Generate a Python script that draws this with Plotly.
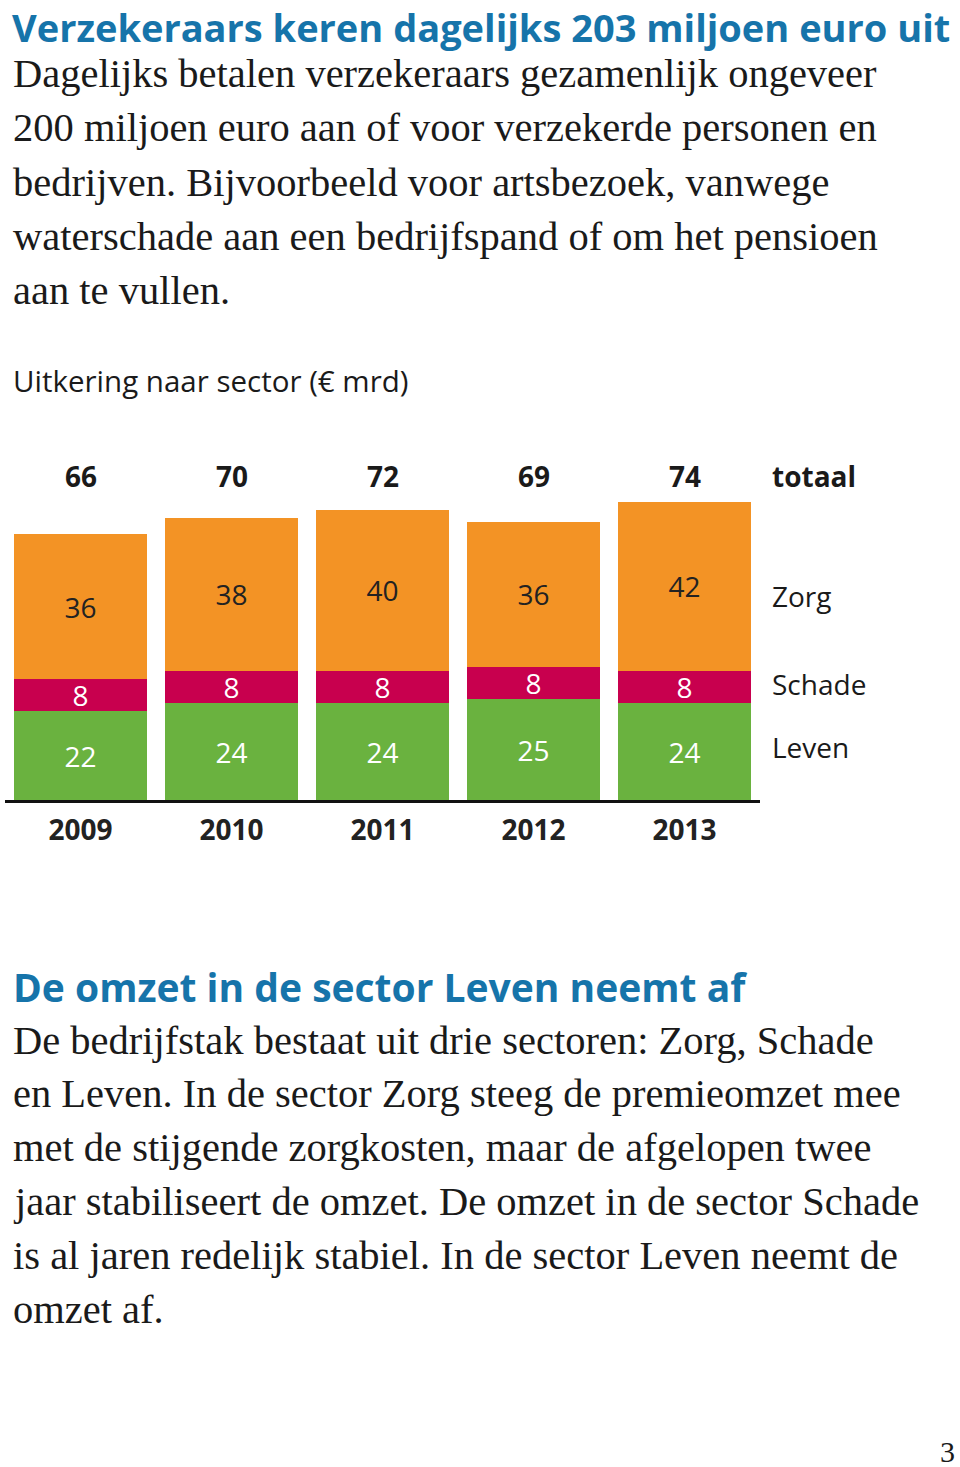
import plotly.graph_objects as go

W, H = 960, 1467

years = ["2009", "2010", "2011", "2012", "2013"]
leven = [22, 24, 24, 25, 24]
schade = [8, 8, 8, 8, 8]
zorg = [36, 38, 40, 36, 42]
totaal = [66, 70, 72, 69, 74]

title1 = "Verzekeraars keren dagelijks 203 miljoen euro uit"
body1 = [
    "Dagelijks betalen verzekeraars gezamenlijk ongeveer",
    "200 miljoen euro aan of voor verzekerde personen en",
    "bedrijven. Bijvoorbeeld voor artsbezoek, vanwege",
    "waterschade aan een bedrijfspand of om het pensioen",
    "aan te vullen.",
]
chart_title = "Uitkering naar sector (€ mrd)"
title2 = "De omzet in de sector Leven neemt af"
body2 = [
    "De bedrijfstak bestaat uit drie sectoren: Zorg, Schade",
    "en Leven. In de sector Zorg steeg de premieomzet mee",
    "met de stijgende zorgkosten, maar de afgelopen twee",
    "jaar stabiliseert de omzet. De omzet in de sector Schade",
    "is al jaren redelijk stabiel. In de sector Leven neemt de",
    "omzet af.",
]
page_no = "3"

GREEN = "#6AB23F"
MAGENTA = "#C8004E"
ORANGE = "#F39325"
BLUE = "#1674AA"
INK = "#1a1a1a"
SANS = "Open Sans"
SERIF = "Liberation Serif"


def px(x):
    return min(1, max(0, x / W))


def py(y):
    return min(1, max(0, 1 - y / H))


fig = go.Figure()
for name, vals, col, tcol in [
    ("Leven", leven, GREEN, "white"),
    ("Schade", schade, MAGENTA, "white"),
    ("Zorg", zorg, ORANGE, "#222222"),
]:
    fig.add_bar(
        x=years, y=vals, name=name, marker=dict(color=col, line=dict(width=0)),
        text=vals, texttemplate="%{text}", textposition="inside",
        insidetextanchor="middle", textangle=0,
        textfont=dict(family=SANS, size=28, color=tcol),
        hoverinfo="skip",
    )

base_px = 800
ppu = 4.03
R = 80
top_px = base_px - ppu * R

fig.update_layout(
    width=W, height=H, margin=dict(l=0, r=0, t=0, b=0),
    paper_bgcolor="white", plot_bgcolor="white",
    barmode="stack", bargap=0.12, showlegend=False,
    uniformtext=dict(minsize=28, mode="show"),
    xaxis=dict(
        domain=[px(5), px(760)], range=[-0.5, 4.5], type="category",
        showline=True, linecolor="#111111", linewidth=3, showgrid=False,
        ticks="", ticklabelstandoff=3,
        tickfont=dict(family=SANS, size=28, color="#222222", weight="bold"),
    ),
    yaxis=dict(
        domain=[py(base_px), py(top_px)], range=[0, R],
        visible=False, showgrid=False,
    ),
)

ann = []
ann.append(dict(text=title1, x=px(11), y=py(0), xanchor="left", yanchor="top", borderpad=0,
                font=dict(family=SANS, size=38, color=BLUE, weight="bold")))
for i, line in enumerate(body1):
    ann.append(dict(text=line, x=px(11), y=py(74 + 54 * i), xanchor="left", yanchor="middle",
                    font=dict(family=SERIF, size=40.5, color=INK)))
ann.append(dict(text=chart_title, x=px(11), y=py(380), xanchor="left", yanchor="middle",
                font=dict(family=SANS, size=29.5, color=INK)))
for i, t in enumerate(totaal):
    ann.append(dict(text=str(t), x=i, xref="x", y=py(476), yanchor="middle",
                    font=dict(family=SANS, size=28, color=INK, weight="bold")))
for lab, yy, bold in [("totaal", 476, True), ("Zorg", 596, False),
                      ("Schade", 684, False), ("Leven", 747, False)]:
    ann.append(dict(text=lab, x=px(770), y=py(yy), xanchor="left", yanchor="middle",
                    font=dict(family=SANS, size=28, color=INK,
                              weight="bold" if bold else "normal")))
ann.append(dict(text=title2, x=px(11), y=py(986), xanchor="left", yanchor="middle",
                font=dict(family=SANS, size=39, color=BLUE, weight="bold")))
for i, line in enumerate(body2):
    ann.append(dict(text=line, x=px(11), y=py(1040 + 53.8 * i), xanchor="left", yanchor="middle",
                    font=dict(family=SERIF, size=40.5, color=INK)))
ann.append(dict(text=page_no, x=px(957), y=py(1451), xanchor="right", yanchor="middle",
                font=dict(family=SERIF, size=30, color=INK)))

for a in ann:
    a.setdefault("xref", "paper")
    a["yref"] = "paper"
    a["showarrow"] = False
fig.update_layout(annotations=ann)

# remove the browser's default 8px body margin so the page maps 1:1 onto the figure
fig.write_html("out.html", config={"displayModeBar": False},
               post_script="document.body.style.margin='0px';")
